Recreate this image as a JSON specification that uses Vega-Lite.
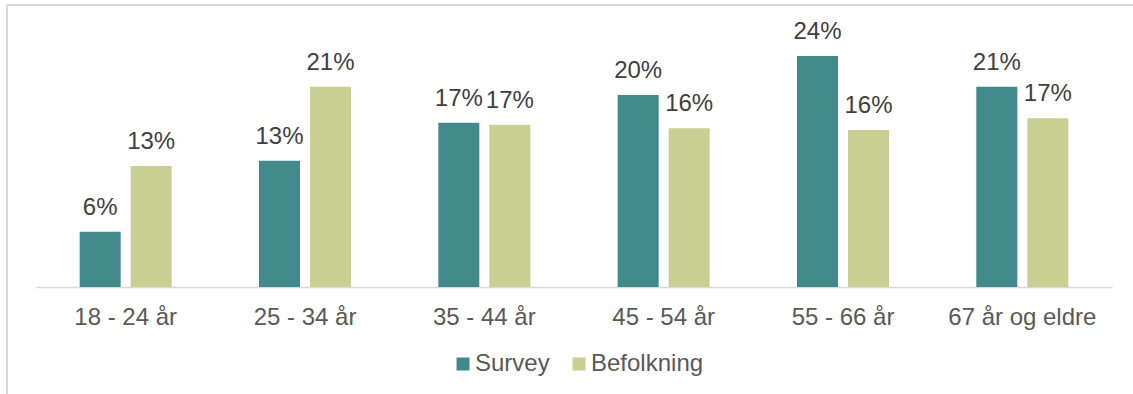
{
  "$schema": "https://vega.github.io/schema/vega-lite/v6.json",
  "autosize": "none",
  "width": 1130,
  "height": 393,
  "padding": {"left": 7, "top": 5, "right": -4, "bottom": -4},
  "background": "white",
  "config": {
    "view": {"stroke": "#d9d9d9", "strokeWidth": 2},
    "font": "Liberation Sans"
  },
  "data": {
    "values": [
      {"group": "18 - 24 år", "series": "Survey", "value": 0.0573},
      {"group": "18 - 24 år", "series": "Befolkning", "value": 0.1254},
      {"group": "25 - 34 år", "series": "Survey", "value": 0.1309},
      {"group": "25 - 34 år", "series": "Befolkning", "value": 0.2076},
      {"group": "35 - 44 år", "series": "Survey", "value": 0.1703},
      {"group": "35 - 44 år", "series": "Befolkning", "value": 0.1682},
      {"group": "45 - 54 år", "series": "Survey", "value": 0.1990},
      {"group": "45 - 54 år", "series": "Befolkning", "value": 0.1645},
      {"group": "55 - 66 år", "series": "Survey", "value": 0.2394},
      {"group": "55 - 66 år", "series": "Befolkning", "value": 0.1627},
      {"group": "67 år og eldre", "series": "Survey", "value": 0.2076},
      {"group": "67 år og eldre", "series": "Befolkning", "value": 0.1748}
    ]
  },
  "encoding": {
    "x": {
      "field": "group",
      "type": "nominal",
      "sort": null,
      "scale": {"range": [29, 1105], "paddingInner": 0, "paddingOuter": 0},
      "axis": {
        "title": null,
        "labelAngle": 0,
        "ticks": false,
        "tickSize": 0,
        "offset": -111,
        "domainColor": "#d9d9d9",
        "domainWidth": 1.5,
        "labelFont": "Liberation Sans",
        "labelFontSize": 24,
        "labelColor": "#595959",
        "labelBaseline": "alphabetic",
        "labelPadding": 37,
        "grid": false
      }
    },
    "xOffset": {
      "field": "series",
      "type": "nominal",
      "sort": ["Survey", "Befolkning"],
      "scale": {"paddingInner": 0.196, "paddingOuter": 0.856}
    },
    "y": {
      "field": "value",
      "type": "quantitative",
      "scale": {"domain": [0, 0.25], "range": [282, 40.75], "nice": false, "zero": true},
      "axis": null
    }
  },
  "layer": [
    {
      "mark": {"type": "bar"},
      "encoding": {
        "color": {
          "field": "series",
          "type": "nominal",
          "sort": ["Survey", "Befolkning"],
          "scale": {"domain": ["Survey", "Befolkning"], "range": ["#41898b", "#c9cf92"]},
          "legend": {
            "title": null,
            "orient": "none",
            "direction": "horizontal",
            "legendX": 444,
            "legendY": 347,
            "padding": 0,
            "symbolType": "square",
            "symbolSize": 169,
            "symbolStrokeWidth": 0,
            "labelFont": "Liberation Sans",
            "labelFontSize": 24,
            "labelColor": "#595959",
            "labelOffset": 0,
            "columnPadding": 17
          }
        }
      }
    },
    {
      "mark": {"type": "text", "baseline": "alphabetic", "dy": -17, "fontSize": 24, "font": "Liberation Sans", "color": "#404040"},
      "encoding": {
        "text": {"field": "value", "type": "quantitative", "format": ".0%"}
      }
    }
  ]
}
